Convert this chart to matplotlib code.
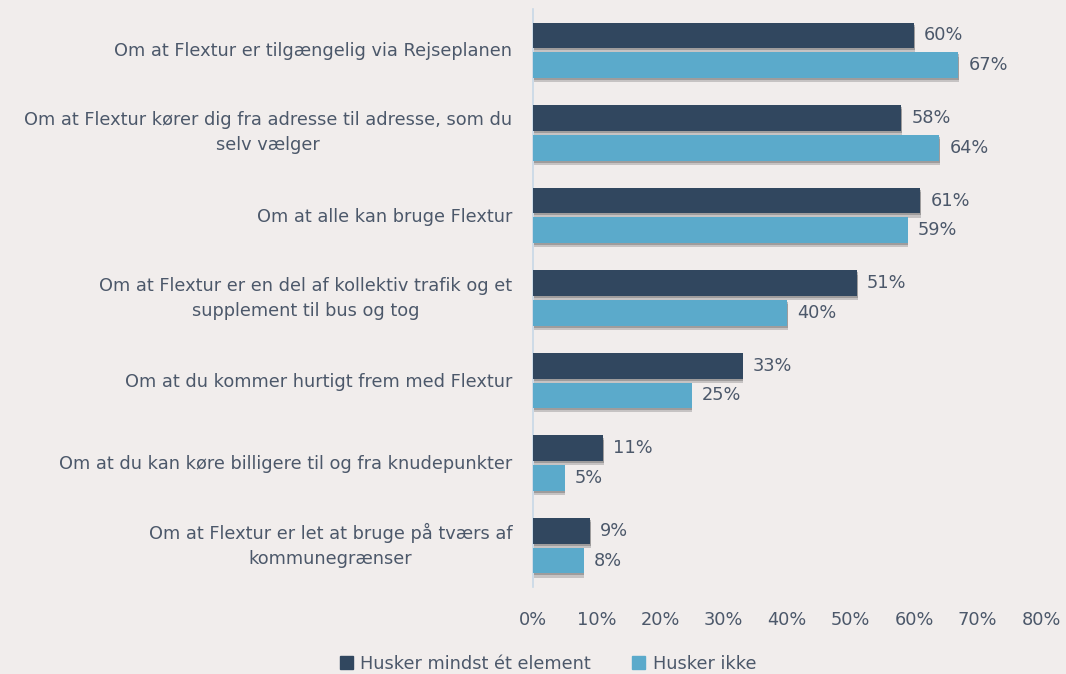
import matplotlib
matplotlib.use("Agg")
import matplotlib.pyplot as plt
import matplotlib.patheffects as pe
from matplotlib.ticker import FuncFormatter
from matplotlib.patches import Patch
import numpy as np

categories = [
    "Om at Flextur er tilgængelig via Rejseplanen",
    "Om at Flextur kører dig fra adresse til adresse, som du\nselv vælger",
    "Om at alle kan bruge Flextur",
    "Om at Flextur er en del af kollektiv trafik og et\nsupplement til bus og tog",
    "Om at du kommer hurtigt frem med Flextur",
    "Om at du kan køre billigere til og fra knudepunkter",
    "Om at Flextur er let at bruge på tværs af\nkommunegrænser",
]
series_names = ["Husker mindst ét element", "Husker ikke"]
husker = [60, 58, 61, 51, 33, 11, 9]
husker_ikke = [67, 64, 59, 40, 25, 5, 8]
x_ticks = [0, 10, 20, 30, 40, 50, 60, 70, 80]

bg = "#F1EDEC"
dark = "#31475F"
light = "#5BAACB"
txt = "#4C586A"
font = "DejaVu Sans"
fs = 12.8
fw = "normal"

fig = plt.figure(figsize=(10.66, 6.74), dpi=100, facecolor=bg)
W, H = 1066, 674
left, right = 533, 1041
top, bottom = 9, 587
ax = fig.add_axes([left / W, 1 - bottom / H, (right - left) / W, (bottom - top) / H])
ax.set_facecolor(bg)

y = np.arange(len(categories))
bh = 0.31
off = 0.18
shadow = [pe.SimplePatchShadow(offset=(0.5, -3), shadow_rgbFace="#777777", alpha=0.35),
          pe.SimplePatchShadow(offset=(0.5, -1.5), shadow_rgbFace="#555555", alpha=0.35),
          pe.Normal()]
b1 = ax.barh(y - off, husker, height=bh, color=dark, zorder=3)
b2 = ax.barh(y + off, husker_ikke, height=bh, color=light, zorder=3)
for bars in (b1, b2):
    for p in bars:
        p.set_path_effects(shadow)

for yy, v in zip(y - off, husker):
    ax.text(v + 1.6, yy, f"{v}%", va="center", ha="left", fontsize=fs, color=txt, family=font, weight=fw)
for yy, v in zip(y + off, husker_ikke):
    ax.text(v + 1.6, yy, f"{v}%", va="center", ha="left", fontsize=fs, color=txt, family=font, weight=fw)

ax.set_xlim(0, 80)
ax.set_ylim(len(categories) - 0.5, -0.5)
ax.set_xticks(x_ticks)
ax.xaxis.set_major_formatter(FuncFormatter(lambda v, p: f"{int(v)}%"))
ax.set_yticks(y)
ax.set_yticklabels([])
for yy, lab in zip(y, categories):
    dy = 0 if "\n" in lab else -0.8
    ax.annotate(lab, xy=(0, yy), xycoords=("axes fraction", "data"),
                xytext=(-15, dy), textcoords="offset points",
                ha="right", va="center", multialignment="center", linespacing=1.5,
                fontsize=fs, color=txt, family=font, weight=fw)
for t in ax.get_xticklabels():
    t.set_family(font)
    t.set_fontsize(fs)
    t.set_color(txt)
    t.set_weight(fw)
ax.tick_params(axis="both", length=0)
ax.tick_params(axis="x", pad=17)
for s in ["top", "right", "bottom"]:
    ax.spines[s].set_visible(False)
ax.spines["left"].set_color("#C8D8E6")
ax.spines["left"].set_linewidth(1.2)

handles = [Patch(color=dark), Patch(color=light)]
leg = fig.legend(handles=handles, labels=series_names, loc="lower center",
                 bbox_to_anchor=(548 / W, -0.022), ncol=2, frameon=False,
                 prop={"family": font, "size": fs, "weight": fw}, handlelength=0.75, handleheight=0.75,
                 handletextpad=0.4, columnspacing=2.3)
for t in leg.get_texts():
    t.set_color(txt)

fig.savefig("out.png", dpi=100, facecolor=bg)
